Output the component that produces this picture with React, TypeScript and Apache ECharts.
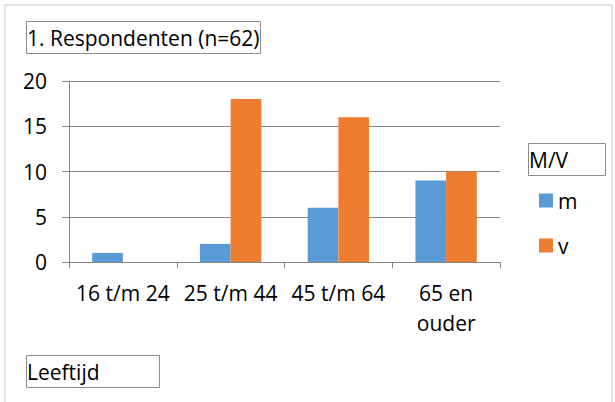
import React, { useEffect, useRef } from "react";
import * as echarts from "echarts";

const categories = ["16 t/m 24", "25 t/m 44", "45 t/m 64", "65 en ouder"];
const seriesM = [1, 2, 6, 9];
const seriesV = [0, 18, 16, 10];
const seriesNames = ["m", "v"];
const titleText = "1. Respondenten (n=62)";
const legendTitle = "M/V";
const axisTitle = "Leeftijd";

const FONT = "Open Sans";
const FS = 21;

export default function App() {
  const ref = useRef<HTMLDivElement>(null);
  useEffect(() => {
    document.body.style.margin = "0";
    const chart = echarts.init(ref.current!, null, { renderer: "svg" });
    const boxStyle = {
      borderColor: "#8c8c8c",
      borderWidth: 1,
    };
    const ts = { fontFamily: FONT, fontSize: FS, fontWeight: "normal", color: "#000" };
    chart.setOption({
      animation: false,
      backgroundColor: "#ffffff",
      textStyle: { fontFamily: FONT },
      title: [
        {
          text: titleText,
          left: 26,
          top: 21,
          padding: [6, 1, 6, 1],
          ...boxStyle,
          textStyle: ts,
        },
        {
          text: legendTitle,
          left: 528,
          top: 143,
          padding: [6, 38, 6, 1],
          ...boxStyle,
          textStyle: ts,
        },
        {
          text: axisTitle,
          left: 26,
          top: 355,
          padding: [6, 60, 6, 1],
          ...boxStyle,
          textStyle: ts,
        },
      ],
      graphic: [
        {
          type: "rect",
          shape: { x: 5, y: 5, width: 607, height: 420 },
          style: { fill: "none", stroke: "#d9d9d9", lineWidth: 1.5 },
          silent: true,
          z: -1,
        },
      ],
      legend: {
        orient: "vertical",
        left: 539,
        top: 190,
        padding: 0,
        icon: "rect",
        itemWidth: 14,
        itemHeight: 14,
        itemGap: 24,
        textStyle: { fontFamily: FONT, fontSize: FS, color: "#000" },
        data: seriesNames,
      },
      grid: { left: 69, right: 115, top: 81, bottom: 140, containLabel: false },
      xAxis: {
        type: "category",
        data: categories,
        axisLine: { show: true, lineStyle: { color: "#868686", width: 1 } },
        axisTick: { show: true, alignWithLabel: false, length: 6, lineStyle: { color: "#868686" } },
        axisLabel: {
          interval: 0,
          margin: 16,
          color: "#000",
          fontFamily: FONT,
          fontSize: FS,
          lineHeight: 30,
          formatter: (v: string) => v.replace(" en ", " en\n"),
        },
      },
      yAxis: {
        type: "value",
        min: 0,
        max: 20,
        interval: 5,
        axisLine: { show: true, lineStyle: { color: "#868686", width: 1 } },
        axisTick: { show: true, length: 7, lineStyle: { color: "#868686" } },
        splitLine: { show: true, lineStyle: { color: "#868686", width: 1 } },
        axisLabel: { margin: 22, color: "#000", fontFamily: FONT, fontSize: FS },
      },
      series: [
        {
          name: seriesNames[0],
          type: "bar",
          data: seriesM,
          itemStyle: { color: "#5b9bd5" },
          barGap: "0%",
          barCategoryGap: "43%",
        },
        {
          name: seriesNames[1],
          type: "bar",
          data: seriesV,
          itemStyle: { color: "#ed7d31" },
          barGap: "0%",
          barCategoryGap: "43%",
        },
      ],
    });
    return () => chart.dispose();
  }, []);
  return <div ref={ref} style={{ width: 615, height: 402 }} />;
}
